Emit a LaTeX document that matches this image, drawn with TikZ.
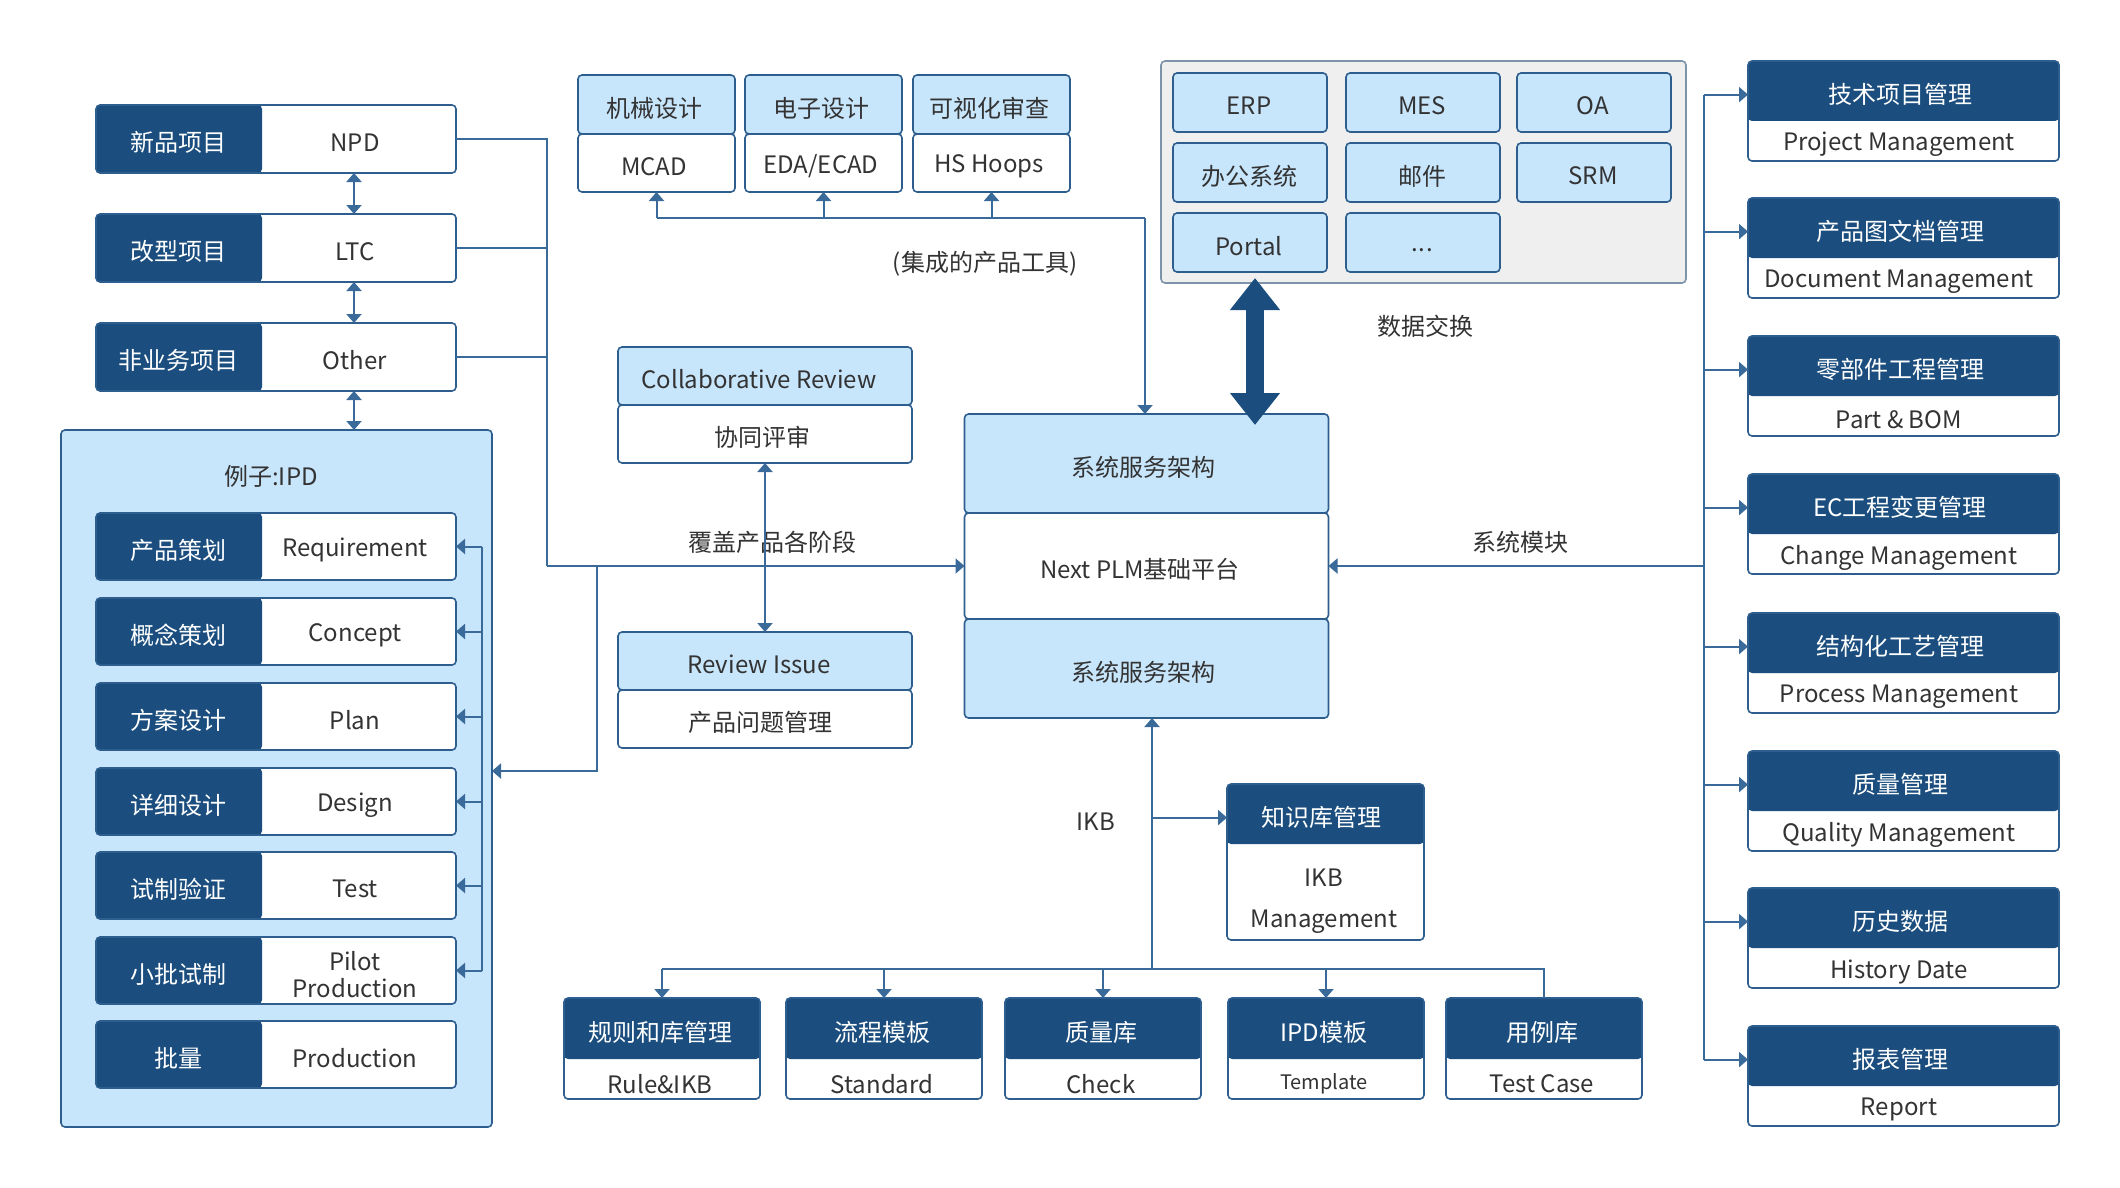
\documentclass[tikz,border=0pt]{standalone}
\usepackage{fontspec}
\setmainfont{Noto Sans CJK SC}
\usetikzlibrary{arrows.meta,calc}
\definecolor{dkb}{HTML}{1B4E7E}
\definecolor{ltb}{HTML}{C7E5FB}
\definecolor{bdr}{HTML}{2E5E8E}
\definecolor{lnc}{HTML}{3A6A99}
\definecolor{gbg}{HTML}{EFEFEF}
\definecolor{gbd}{HTML}{7D93AA}
\definecolor{txt}{HTML}{333333}
\newlength\pxu \setlength\pxu{0.5pt}
\newcommand\threedots{\vphantom{Pg}.\kern0.5pt.\kern0.5pt.}
\begin{document}
\begin{tikzpicture}[x=0.5pt,y=-0.5pt, font=\fontsize{12pt}{14pt}\selectfont, text=txt,
  bx/.style={rounded corners=2pt, line width=0.8pt, draw=bdr, inner sep=0pt, outer sep=0pt, anchor=north west},
  lbox/.style={bx, fill=ltb},
  wbox/.style={bx, fill=white},
  sz/.style 2 args={minimum width=#1*\pxu, minimum height=#2*\pxu},
  dtop/.style={wbox, path picture={\fill[dkb] (path picture bounding box.north west) rectangle ([yshift=-#1*\pxu]path picture bounding box.north east);}},
  dleft/.style={wbox, path picture={\fill[dkb] (path picture bounding box.north west) rectangle ([xshift=#1*\pxu]path picture bounding box.south west);}},
  tn/.style={inner sep=0pt, align=center, yshift=-1.8pt},
  wt/.style={tn, text=white},
  ln/.style={draw=lnc, line width=1pt},
  arr/.style={ln, -{Triangle[length=4.5pt,width=7.5pt]}},
  dbl/.style={ln, {Triangle[length=4.5pt,width=7.5pt]}-{Triangle[length=4.5pt,width=7.5pt]}},
  bigarr/.style={draw=dkb, line width=9.3pt, {Triangle[length=16pt,width=24pt]}-{Triangle[length=16pt,width=24pt]}}
]
\fill[white] (0,0) rectangle (2120,1188);
\useasboundingbox (0,0) rectangle (2120,1188);

% ---------- left project rows ----------
\foreach \nm/\ty/\cn/\en in {r1/105/新品项目/NPD, r2/214/改型项目/LTC, r3/323/非业务项目/Other}{
  \node[dleft=166, sz={360}{68}] (\nm) at (96,\ty) {};
  \node[wt] (\nm-c) at (178,\ty+34) {\cn};
  \node[tn] (\nm-e) at (355,\ty+34) {\en};
}

% ---------- IPD box ----------
\node[lbox, sz={431}{697}] (ipd) at (61,430) {};
\node[tn] (ipdt) at (271,473) {例子:IPD};
\foreach \nm/\ty/\cn/\en in {p1/513/产品策划/Requirement, p2/598/概念策划/Concept, p3/683/方案设计/Plan, p4/768/详细设计/Design, p5/852/试制验证/Test, p6/937/小批试制/{Pilot\\Production}, p7/1021/批量/Production}{
  \node[dleft=166, sz={360}{67}] (\nm) at (96,\ty) {};
  \node[wt] (\nm-c) at (178,\ty+33.5) {\cn};
  \node[tn, font=\fontsize{12pt}{13.5pt}\selectfont] (\nm-e) at (355,\ty+33.5) {\en};
}

% ---------- tools ----------
\foreach \nm/\tx/\cn/\en in {t1/578/机械设计/MCAD, t2/745/电子设计/EDA\slash ECAD, t3/913/可视化审查/HS Hoops}{
  \node[lbox, sz={157}{59}] (\nm) at (\tx,75) {};
  \node[tn] (\nm-c) at (\tx+76,104.5) {\cn};
  \node[wbox, sz={157}{58}] (\nm b) at (\tx,134) {};
  \node[tn] (\nm-e) at (\tx+76,163) {\en};
}

% ---------- external systems ----------
\node[bx, fill=gbg, draw=gbd, sz={525}{222}] (gray) at (1161,61) {};
\foreach \nm/\tx/\ty/\tt in {s1/1173/73/ERP, s2/1346/73/MES, s3/1517/73/OA, s4/1173/143/办公系统, s5/1346/143/邮件, s6/1517/143/SRM, s7/1173/213/Portal, s8/1346/213/\threedots}{
  \node[lbox, sz={154}{59}] (\nm) at (\tx,\ty) {};
  \node[tn] (\nm-t) at (\tx+76,\ty+29.5) {\tt};
}

% ---------- review boxes ----------
\node[lbox, sz={294}{58}] (cr1) at (618,347) {};
\node[tn] (cr1-t) at (759,376) {Collaborative Review};
\node[wbox, sz={294}{58}] (cr2) at (618,405) {};
\node[tn] (cr2-t) at (762,434) {协同评审};
\node[lbox, sz={294}{58}] (ri1) at (618,632) {};
\node[tn] (ri1-t) at (759,661) {Review Issue};
\node[wbox, sz={294}{58}] (ri2) at (618,690) {};
\node[tn] (ri2-t) at (760,719) {产品问题管理};

% ---------- platform ----------
\node[lbox, sz={364}{99}] (plm1) at (964.5,414) {};
\node[tn] (plm1-t) at (1143,463.5) {系统服务架构};
\node[wbox, sz={364}{106}] (plm2) at (964.5,513) {};
\node[tn] (plm2-t) at (1140,566) {Next PLM基础平台};
\node[lbox, sz={364}{99}] (plm3) at (964.5,619) {};
\node[tn] (plm3-t) at (1143,668.5) {系统服务架构};

% ---------- knowledge base ----------
\node[dtop=60, sz={197}{156}] (ikb) at (1227,784) {};
\node[wt] (ikb-c) at (1321,814) {知识库管理};
\node[tn, font=\fontsize{12pt}{20.5pt}\selectfont] (ikb-e) at (1324,898) {IKB\\Management};

\foreach \nm/\tx/\cn/\en in {b1/564/规则和库管理/Rule\&IKB, b2/786/流程模板/Standard, b3/1005/质量库/Check, b4/1228/IPD模板/{\fontsize{10pt}{12pt}\selectfont Template}, b5/1446/用例库/Test Case}{
  \node[dtop=61, sz={196}{101}] (\nm) at (\tx,998) {};
  \node[wt] (\nm-c) at (\tx+96,1029) {\cn};
  \node[tn] (\nm-e) at (\tx+96,1080) {\en};
}

% ---------- right modules ----------
\foreach \nm/\ty/\cn/\en in {m1/61/技术项目管理/Project Management, m2/198/产品图文档管理/Document Management, m3/336/零部件工程管理/Part \& BOM, m4/474/EC工程变更管理/Change Management, m5/613/结构化工艺管理/Process Management, m6/751/质量管理/Quality Management, m7/888/历史数据/History Date, m8/1026/报表管理/Report}{
  \node[dtop=60, sz={311}{100}] (\nm) at (1748,\ty) {};
  \node[wt] (\nm-c) at (1900,\ty+30) {\cn};
  \node[tn] (\nm-e) at (1899,\ty+80) {\en};
}

% ---------- labels ----------
\node[tn] (lab1) at (985,260) {(集成的产品工具)};
\node[tn] (lab2) at (1425,323) {数据交换};
\node[tn] (lab3) at (772,539) {覆盖产品各阶段};
\node[tn] (lab4) at (1520,539) {系统模块};
\node[tn] (lab5) at (1096,818) {IKB};

% ---------- connectors ----------
\coordinate (ax) at (354,0);
\draw[dbl] (r1.south -| ax) -- (r2.north -| ax);
\draw[dbl] (r2.south -| ax) -- (r3.north -| ax);
\draw[dbl] (r3.south -| ax) -- (ipd.north -| ax);

\coordinate (bx) at (547,0);
\draw[ln] (r1.east) -- (r1.east -| bx) -- (bx |- plm2.west);
\draw[ln] (r2.east) -- (r2.east -| bx);
\draw[ln] (r3.east) -- (r3.east -| bx);
\draw[arr] (bx |- plm2.west) -- (plm2.west);
\coordinate (by) at (597,0);
\coordinate (ipdin) at (492,771);
\draw[arr] (by |- plm2.west) -- (by |- ipdin) -- (ipdin);

\coordinate (vi) at (482,0);
\draw[ln] (p1.east -| vi) -- (p6.east -| vi);
\foreach \k in {1,...,6}{\draw[arr] (p\k.east -| vi) -- (p\k.east);}

\draw[dbl] (cr2.south) -- (ri1.north);

\coordinate (tj) at (1145,218);
\draw[ln] (t1b.south |- tj) -- (tj);
\draw[arr] (tj) -- (tj |- plm1.north);
\foreach \k in {1,2,3}{\draw[arr] (t\k b.south |- tj) -- (t\k b.south);}

\coordinate (bgt) at (1255,278);
\coordinate (bgb) at (1255,425);
\draw[bigarr] (bgt) -- (bgb);

\coordinate (rb) at (1704,0);
\draw[ln] (rb |- m1-c) -- (rb |- m8-c);
\foreach \k in {1,...,8}{\draw[arr] (rb |- m\k-c) -- (m\k.west |- m\k-c);}
\draw[arr] (rb |- plm2.east) -- (plm2.east);

\coordinate (kb) at (1152,969);
\draw[arr] (kb) -- (kb |- plm3.south);
\draw[arr] (kb |- ikb-c) -- (ikb.west |- ikb-c);
\draw[ln] (b1.north |- kb) -- (b5.north |- kb) -- (b5.north);
\foreach \k in {1,...,4}{\draw[arr] (b\k.north |- kb) -- (b\k.north);}
\end{tikzpicture}
\end{document}
